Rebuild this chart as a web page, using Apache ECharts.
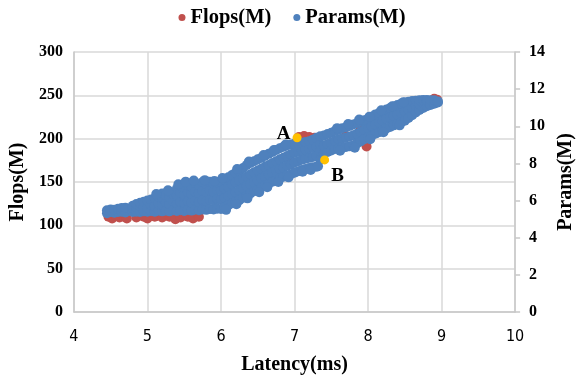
<!DOCTYPE html>
<html><head><meta charset="utf-8">
<script src="https://cdn.jsdelivr.net/npm/echarts@6/dist/echarts.min.js"></script>
<style>html,body{margin:0;padding:0;background:#fff}#c{width:584px;height:384px}</style>
</head><body><div id="c"></div>
<script>
// Flops(M) points: [Latency(ms), Flops(M)]
var flopsPoints = [
[4.47,110],[4.52,108],[4.57,111],[4.62,109],[4.68,110],[4.72,108],[4.85,109],[4.95,110],[5.0,108],[5.1,110],
[5.2,109],[5.3,110],[5.38,107],[5.45,109],[5.55,110],[5.62,108],[5.7,110],
[5.0,122],[5.3,128],[5.6,132],[5.9,135],[6.1,140],[6.3,150],[6.5,160],[6.7,170],[6.9,178],[7.1,185],[7.3,190],
[7.5,195],[7.7,203],[7.9,210],[8.1,218],[8.3,225],[8.5,232],[8.7,238],
[7.06,202],[7.13,203],[7.2,202],[7.27,201],
[7.98,191],
[8.9,246],[8.94,245]
];
// Params(M) points grouped by latency: [Latency(ms), [Params(M) values]]
var paramsRows = [
[4.45,[5.32,5.48]],[4.50,[5.38,5.52]],[4.55,[5.34,5.50]],[4.60,[5.38,5.56]],[4.65,[5.40,5.60]],[4.70,[5.36,5.62]],
[4.80,[5.38,5.58,5.72]],[4.85,[5.40,5.64,5.82]],[4.90,[5.38,5.70,5.88]],[4.95,[5.42,5.66,5.94]],[5.00,[5.40,5.62,6.00]],
[5.05,[5.44,5.76,6.06]],[5.10,[5.40,5.70,6.12]],[5.15,[5.46,5.85,6.22]],[5.20,[5.42,5.78,6.15,6.38]],[5.25,[5.46,5.90,6.30]],
[5.30,[5.42,5.82,6.20,6.48]],[5.35,[5.48,5.96,6.36]],[5.40,[5.44,5.86,6.26,6.64]],[5.45,[5.48,5.92,6.40,6.82]],
[5.50,[5.44,5.88,6.32,6.70]],[5.55,[5.50,5.96,6.45,6.86]],[5.60,[5.46,5.90,6.36,6.76]],[5.65,[5.52,6.00,6.48,6.94]],
[5.70,[5.48,5.92,6.40,6.84]],[5.75,[5.52,6.02,6.52,7.00]],[5.80,[5.50,5.96,6.45,6.88]],[5.85,[5.54,6.05,6.55,7.02]],
[5.90,[5.52,6.00,6.48,6.92]],[5.95,[5.56,6.08,6.58,6.98]],
[6.00,[5.55,6.05,6.55,7.02]],[6.05,[5.65,6.15,6.65,7.12]],[6.10,[5.75,6.25,6.75,7.25]],[6.15,[5.85,6.35,6.88,7.38]],
[6.20,[5.92,6.45,6.98,7.50]],[6.25,[6.02,6.55,7.08,7.60]],[6.30,[6.15,6.65,7.18,7.75]],[6.35,[6.25,6.78,7.30,7.92]],
[6.40,[6.38,6.88,7.42,8.02]],[6.45,[6.50,6.98,7.52,8.12]],[6.50,[6.60,7.08,7.62,8.22]],[6.55,[6.70,7.20,7.72,8.30]],
[6.60,[6.82,7.30,7.82,8.42]],[6.65,[6.92,7.40,7.92,8.52]],[6.70,[7.02,7.50,8.02,8.62]],[6.75,[7.10,7.60,8.12,8.72]],
[6.80,[7.20,7.70,8.22,8.82]],[6.85,[7.28,7.78,8.30,8.90]],[6.90,[7.35,7.88,8.40,8.98]],[6.95,[7.42,7.95,8.50,9.02]],
[7.00,[7.50,8.05,8.58,9.06]],[7.05,[7.58,8.12,8.65,9.10]],[7.10,[7.65,8.20,8.70,9.12]],[7.15,[7.70,8.25,8.75,9.15]],
[7.20,[7.75,8.30,8.80,9.20]],[7.25,[7.80,8.35,8.85,9.28]],[7.30,[7.82,8.40,8.92,9.38]],[7.35,[8.20,8.65,9.05,9.46]],
[7.40,[8.55,8.95,9.50]],[7.45,[8.62,9.05,9.58]],[7.50,[8.70,9.12,9.65]],[7.55,[8.78,9.22,9.75]],
[7.60,[8.80,9.30,9.82]],[7.65,[8.85,9.35,9.90]],[7.70,[8.88,9.40,9.95]],[7.75,[8.92,9.45,10.02]],
[7.80,[8.98,9.52,10.10]],[7.85,[9.08,9.60,10.18]],[7.90,[9.18,9.70,10.25]],[7.95,[9.30,9.80,10.32]],
[8.00,[9.40,9.90,10.40]],[8.05,[9.50,10.00,10.52]],[8.10,[9.60,10.10,10.64]],[8.15,[9.68,10.20,10.72]],
[8.20,[9.78,10.30,10.80]],[8.25,[9.88,10.40,10.90]],[8.30,[9.96,10.48,10.98]],[8.35,[10.05,10.56,11.06]],
[8.40,[10.12,10.64,11.14]],[8.45,[10.20,10.72,11.22]],[8.50,[10.30,10.80,11.28]],[8.55,[10.45,10.90,11.32]],
[8.60,[10.60,11.00,11.36]],[8.65,[10.75,11.10,11.38]],[8.70,[10.88,11.18,11.40]],[8.75,[10.98,11.26,11.42]],
[8.80,[11.08,11.34,11.42]],[8.85,[11.15,11.40]],[8.90,[11.22,11.40]],[8.95,[11.28,11.34]],
// irregular edge points
[5.12,[6.35]],[5.28,[6.55]],[5.42,[6.88]],[5.52,[7.02]],[5.63,[7.08]],[5.78,[7.1]],[5.91,[7.06]],[6.02,[7.22]],
[6.22,[7.7]],[6.38,[8.1]],[6.58,[8.45]],[6.72,[8.72]],[6.88,[9.02]],
[6.07,[5.5]],[6.21,[5.8]],[6.36,[6.12]],[6.52,[6.45]],[6.63,[6.72]],[6.78,[7.0]],[6.92,[7.25]],[7.11,[7.55]],[7.22,[7.65]],[7.32,[7.85]],
[7.62,[8.68]],[7.82,[8.85]],[8.03,[9.3]],[8.21,[9.68]],[8.43,[10.05]],
[7.58,[9.9]],[7.73,[10.12]],[7.88,[10.36]],[8.02,[10.52]],[8.18,[10.86]],[8.33,[11.08]],[8.48,[11.3]]
];
// Marked models: name, Latency(ms), Flops(M)
var markNames = ['A','B'];
var markLatency = [7.035, 7.41];
var markFlops = [201, 175.5];
var xTicks = {min:4, max:10, step:1};
var leftTicks = {min:0, max:300, step:50};
var rightTicks = {min:0, max:14, step:2};

var paramsPoints = [];
paramsRows.forEach(function(r){ r[1].forEach(function(v){ paramsPoints.push([r[0], v]); }); });

var serif = "'Liberation Serif','Times New Roman',serif";
var narrow = "'Liberation Sans Narrow','DejaVu Sans Condensed',sans-serif";
var gridColor = '#d9d9d9';
var axisColor = '#c8c8c8';

var chart = echarts.init(document.getElementById('c'), null, {renderer:'canvas'});
chart.setOption({
  animation:false,
  backgroundColor:'#fff',
  legend:{
    top:2, left:'center', itemWidth:7, itemHeight:7, itemGap:22, icon:'circle',
    data:['Flops(M)','Params(M)'],
    textStyle:{fontFamily:serif, fontWeight:'bold', fontSize:20.5, color:'#000'}
  },
  grid:{left:70, right:58, top:52, bottom:72, containLabel:false},
  xAxis:{
    type:'value', min:xTicks.min, max:xTicks.max, interval:xTicks.step,
    name:'Latency(ms)', nameLocation:'middle', nameGap:43,
    nameTextStyle:{fontFamily:serif, fontWeight:'bold', fontSize:20, color:'#000'},
    axisLine:{show:true, lineStyle:{color:axisColor, width:1.5}},
    axisTick:{show:false},
    axisLabel:{fontFamily:narrow, fontSize:16, color:'#000', margin:17},
    splitLine:{show:true, lineStyle:{color:gridColor, width:1.5}}
  },
  yAxis:[{
    type:'value', min:leftTicks.min, max:leftTicks.max, interval:leftTicks.step, position:'left',
    name:'Flops(M)', nameLocation:'middle', nameGap:43, nameRotate:90,
    nameTextStyle:{fontFamily:serif, fontWeight:'bold', fontSize:20, color:'#000'},
    axisLine:{show:true, lineStyle:{color:axisColor, width:1.5}},
    axisTick:{show:false},
    axisLabel:{fontFamily:serif, fontWeight:'bold', fontSize:16, color:'#000', margin:11},
    splitLine:{show:true, lineStyle:{color:gridColor, width:1.5}}
  },{
    type:'value', min:rightTicks.min, max:rightTicks.max, interval:rightTicks.step, position:'right',
    name:'Params(M)', nameLocation:'middle', nameGap:38, nameRotate:90,
    nameTextStyle:{fontFamily:serif, fontWeight:'bold', fontSize:20, color:'#000'},
    axisLine:{show:true, lineStyle:{color:axisColor, width:1.5}},
    axisTick:{show:true, inside:false, length:5, lineStyle:{color:axisColor, width:1.5}},
    axisLabel:{fontFamily:serif, fontWeight:'bold', fontSize:16, color:'#000', margin:14},
    splitLine:{show:false}
  }],
  series:[{
    name:'Flops(M)', type:'scatter', yAxisIndex:0, symbolSize:10,
    itemStyle:{color:'#c0504d', opacity:1},
    data:flopsPoints
  },{
    name:'Params(M)', type:'scatter', yAxisIndex:1, symbolSize:10,
    itemStyle:{color:'#4f81bd', opacity:1},
    data:paramsPoints
  },{
    name:'marks', type:'scatter', yAxisIndex:0, symbolSize:9, z:5,
    itemStyle:{color:'#ffc000', opacity:1},
    label:{show:true, formatter:function(p){return p.name;}, fontFamily:serif, fontWeight:'bold', fontSize:19, color:'#000'},
    data:markNames.map(function(n,i){
      return {name:n, value:[markLatency[i], markFlops[i]],
        label: i===0 ? {position:'left', distance:2, offset:[0,-4]} : {position:'bottom', distance:1, offset:[13,1]}};
    })
  }]
});
</script></body></html>
